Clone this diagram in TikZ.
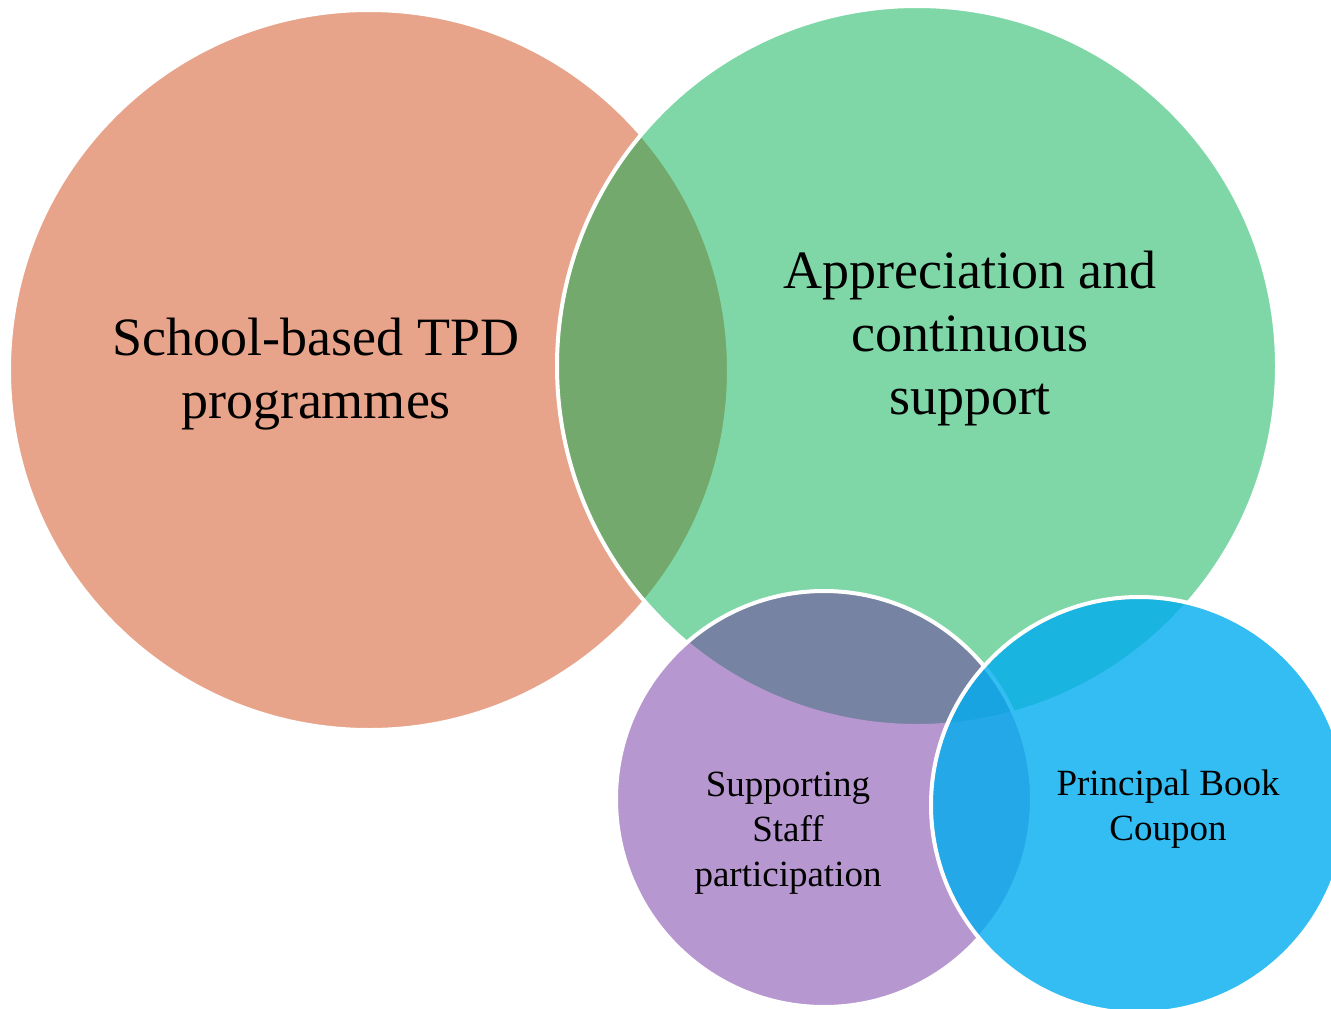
\documentclass[tikz,border=0pt]{standalone}
\usepackage{fontspec}
\setmainfont{Liberation Serif}
\definecolor{csalmon}{RGB}{209,73,21}
\definecolor{cgreen}{RGB}{0,176,80}
\definecolor{cpurple}{RGB}{112,48,160}
\definecolor{cblue}{RGB}{0,173,239}
\begin{document}
\begin{tikzpicture}[x=1pt,y=-1pt,
  venn/.style={circle, draw=white, line width=4pt, inner sep=0pt, outer sep=0pt},
  bigtxt/.style={align=center, text=black, font=\fontsize{54}{63}\selectfont},
  smalltxt/.style={align=center, text=black, font=\fontsize{37}{45}\selectfont}]
\useasboundingbox (0,0) rectangle (1331,1009);
\clip (0,0) rectangle (1331,1009);
\node[venn, minimum size=720pt, fill=csalmon, fill opacity=0.5] (c1) at (369,370) {};
\node[venn, minimum size=720pt, fill=cgreen, fill opacity=0.5] (c2) at (917,366) {};
\node[venn, minimum size=416pt, fill=cpurple, fill opacity=0.5] (c3) at (824,799) {};
\node[venn, minimum size=416pt, fill=cblue, fill opacity=0.8] (c4) at (1139,805) {};
\node[bigtxt] (t1) at (316,374) {School-based TPD\\programmes};
\node[bigtxt] (t2) at (970,339) {Appreciation and\\continuous\\support};
\node[smalltxt] (t3) at (788,833) {Supporting\\Staff\\participation};
\node[smalltxt] (t4) at (1168,809) {Principal Book\\Coupon};
\end{tikzpicture}
\end{document}
